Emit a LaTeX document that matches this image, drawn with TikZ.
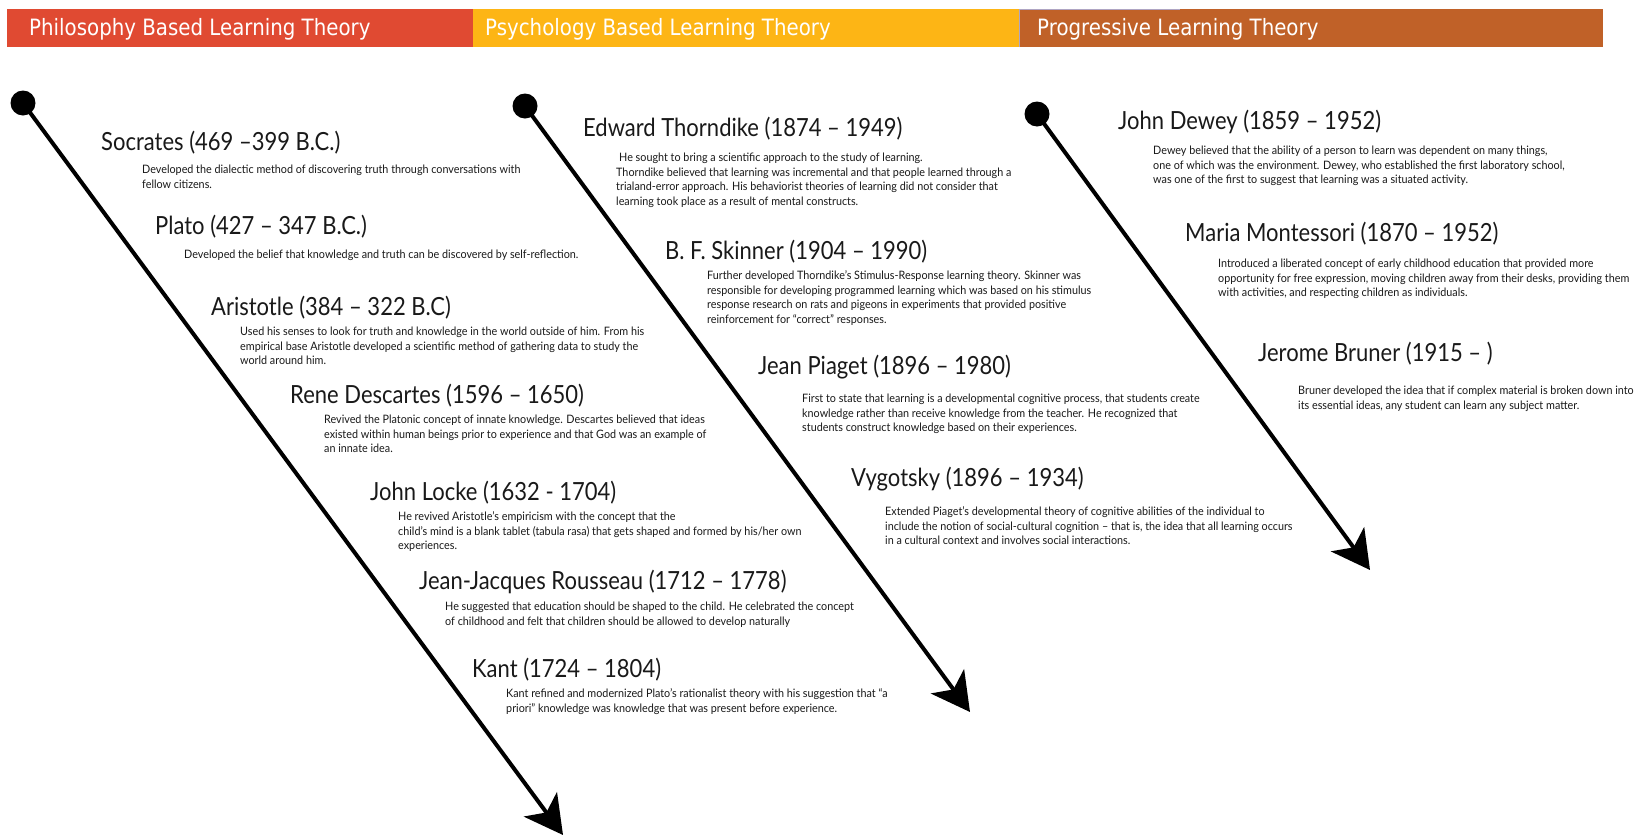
\documentclass[tikz,border=0pt]{standalone}
\usepackage{fontspec}
\setmainfont{Lato}
\newfontfamily\hdrfont[FakeStretch=0.88]{DejaVu Sans}
\newfontfamily\ttlfont[FakeStretch=0.88]{Lato}
\newfontfamily\dscfont[FakeStretch=0.93]{Lato}
\usetikzlibrary{arrows.meta}
\definecolor{cred}{RGB}{224,74,50}
\definecolor{cyel}{RGB}{253,181,21}
\definecolor{corg}{RGB}{192,97,40}
\definecolor{txt}{RGB}{25,25,25}
\newcommand\mydesc[1]{\begin{tabular}[t]{@{}l@{}}#1\end{tabular}}
\begin{document}
\begin{tikzpicture}[x=1pt,y=-1pt,
  hdr/.style={anchor=base west,inner sep=0,text=white,font=\hdrfont\fontsize{22.5}{26}\selectfont},
  ttl/.style={anchor=base west,inner sep=0,text=txt,font=\ttlfont\fontsize{25}{30}\selectfont},
  dsc/.style={anchor=base west,inner sep=0,text=txt,font=\dscfont\fontsize{11.6}{14.7}\selectfont},
  dotnode/.style={circle,fill=black,inner sep=0,minimum size=25pt},
  tline/.style={line width=4pt,-{Stealth[length=38pt,width=41pt,inset=10pt]}}]
\useasboundingbox (0,0) rectangle (1651,836);
\fill[white] (0,0) rectangle (1651,836);
% header bars
\fill[cred] (7,9) rectangle (473,47);
\fill[cyel] (473,9) rectangle (1019,47);
\fill[corg] (1019,9) rectangle (1603,47);
\draw[line width=1pt,draw={rgb,255:red,175;green,165;blue,195}] (1019.5,47) -- (1019.5,9.5) -- (1180,9.5);
\node[hdr] (h1) at (29,35.5) {Philosophy Based Learning Theory};
\node[hdr] (h2) at (485,35.5) {Psychology Based Learning Theory};
\node[hdr] (h3) at (1037,35.5) {Progressive Learning Theory};
% timelines
\node[dotnode] (d1) at (23,103) {};
\node[dotnode] (d2) at (525,106) {};
\node[dotnode] (d3) at (1037,114) {};
\coordinate (e1) at (563,835);
\coordinate (e2) at (970,712);
\coordinate (e3) at (1370,570);
\draw[tline] (d1.center) -- (e1);
\draw[tline] (d2.center) -- (e2);
\draw[tline] (d3.center) -- (e3);
% Philosophy
\node[ttl] (t1) at (101,150) {Socrates (469 –399 B.C.)};
\node[dsc] (s1) at (142,173.5) {\mydesc{Developed the dialectic method of discovering truth through conversations with\\fellow citizens.}};
\node[ttl] (t2) at (155,234) {Plato (427 – 347 B.C.)};
\node[dsc] (s2) at (184,258.5) {\mydesc{Developed the belief that knowledge and truth can be discovered by self-reflection.}};
\node[ttl] (t3) at (211,315) {Aristotle (384 – 322 B.C)};
\node[dsc] (s3) at (240,335.5) {\mydesc{Used his senses to look for truth and knowledge in the world outside of him. From his\\empirical base Aristotle developed a scientific method of gathering data to study the\\world around him.}};
\node[ttl] (t4) at (290,403) {Rene Descartes (1596 – 1650)};
\node[dsc] (s4) at (324,423.5) {\mydesc{Revived the Platonic concept of innate knowledge. Descartes believed that ideas\\existed within human beings prior to experience and that God was an example of\\an innate idea.}};
\node[ttl] (t5) at (370,500) {John Locke (1632 - 1704)};
\node[dsc] (s5) at (398,520.5) {\mydesc{He revived Aristotle’s empiricism with the concept that the\\child’s mind is a blank tablet (tabula rasa) that gets shaped and formed by his/her own\\experiences.}};
\node[ttl] (t6) at (419,589) {Jean-Jacques Rousseau (1712 – 1778)};
\node[dsc] (s6) at (445,610.5) {\mydesc{He suggested that education should be shaped to the child. He celebrated the concept\\of childhood and felt that children should be allowed to develop naturally}};
\node[ttl] (t7) at (472,677) {Kant (1724 – 1804)};
\node[dsc] (s7) at (506,697.5) {\mydesc{Kant refined and modernized Plato’s rationalist theory with his suggestion that “a\\priori” knowledge was knowledge that was present before experience.}};
% Psychology
\node[ttl] (t8) at (583,136) {Edward Thorndike (1874 – 1949)};
\node[dsc] (s8) at (616,161.5) {\mydesc{\hspace{3pt}He sought to bring a scientific approach to the study of learning.\\Thorndike believed that learning was incremental and that people learned through a\\trialand-error approach. His behaviorist theories of learning did not consider that\\learning took place as a result of mental constructs.}};
\node[ttl] (t9) at (665,259) {B. F. Skinner (1904 – 1990)};
\node[dsc] (s9) at (707,279.5) {\mydesc{Further developed Thorndike’s Stimulus-Response learning theory. Skinner was\\responsible for developing programmed learning which was based on his stimulus\\response research on rats and pigeons in experiments that provided positive\\reinforcement for “correct” responses.}};
\node[ttl] (t10) at (758,374) {Jean Piaget (1896 – 1980)};
\node[dsc] (s10) at (802,402.5) {\mydesc{First to state that learning is a developmental cognitive process, that students create\\knowledge rather than receive knowledge from the teacher. He recognized that\\students construct knowledge based on their experiences.}};
\node[ttl] (t11) at (851,486) {Vygotsky (1896 – 1934)};
\node[dsc] (s11) at (885,515.5) {\mydesc{Extended Piaget’s developmental theory of cognitive abilities of the individual to\\include the notion of social-cultural cognition – that is, the idea that all learning occurs\\in a cultural context and involves social interactions.}};
% Progressive
\node[ttl] (t12) at (1118,129) {John Dewey (1859 – 1952)};
\node[dsc] (s12) at (1153,154.5) {\mydesc{Dewey believed that the ability of a person to learn was dependent on many things,\\one of which was the environment. Dewey, who established the first laboratory school,\\was one of the first to suggest that learning was a situated activity.}};
\node[ttl] (t13) at (1185,241) {Maria Montessori (1870 – 1952)};
\node[dsc] (s13) at (1218,267.5) {\mydesc{Introduced a liberated concept of early childhood education that provided more\\opportunity for free expression, moving children away from their desks, providing them\\with activities, and respecting children as individuals.}};
\node[ttl] (t14) at (1258,361) {Jerome Bruner (1915 – )};
\node[dsc] (s14) at (1298,394.5) {\mydesc{Bruner developed the idea that if complex material is broken down into\\its essential ideas, any student can learn any subject matter.}};
\end{tikzpicture}
\end{document}
